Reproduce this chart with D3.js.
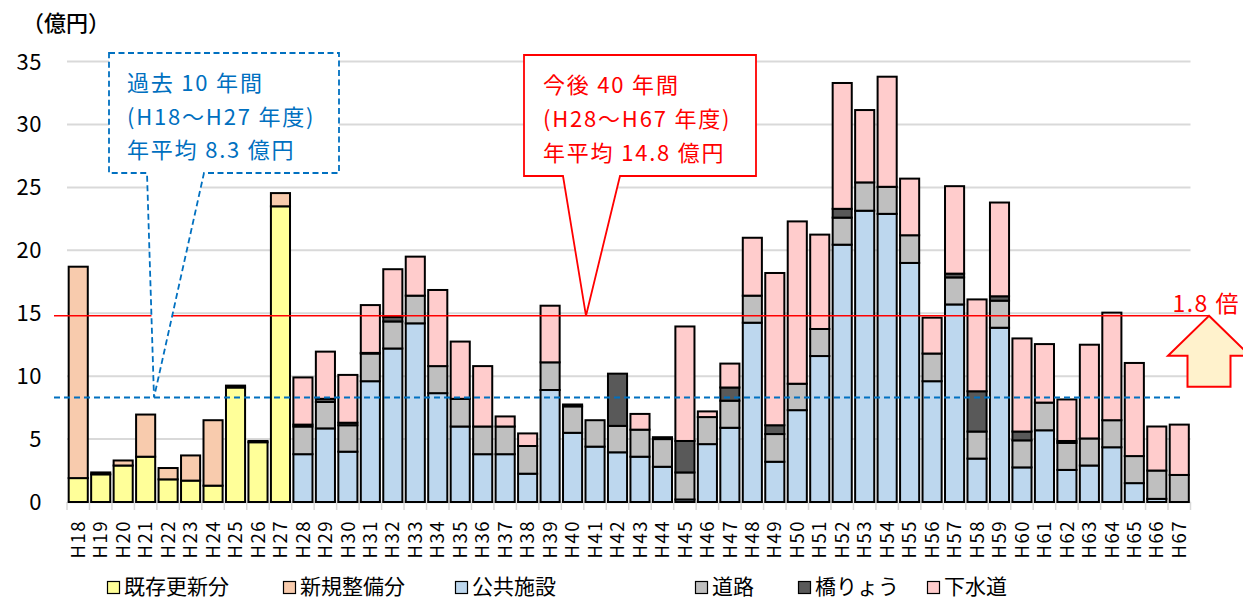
<!DOCTYPE html>
<html lang="ja">
<head>
<meta charset="utf-8">
<script src="https://cdn.jsdelivr.net/npm/d3@7"></script>
<style>
  html, body { margin: 0; padding: 0; background: #fff; }
  svg { display: block; font-family: "Noto Sans CJK JP", "Noto Sans", sans-serif; }
</style>
</head>
<body>
<svg id="chart" width="1243" height="600"></svg>
<script>
// 年度 (fiscal years)
const categories = [
  "H18","H19","H20","H21","H22","H23","H24","H25","H26","H27",
  "H28","H29","H30","H31","H32","H33","H34","H35","H36","H37",
  "H38","H39","H40","H41","H42","H43","H44","H45","H46","H47",
  "H48","H49","H50","H51","H52","H53","H54","H55","H56","H57",
  "H58","H59","H60","H61","H62","H63","H64","H65","H66","H67"
];

// 過去10年間 (H18–H27): 既存更新分 / 新規整備分 (億円)
const kizonKoushin = [1.9, 2.2, 2.9, 3.6, 1.8, 1.7, 1.3, 9.1, 4.75, 23.5];
const shinkiSeibi  = [16.8, 0.15, 0.4, 3.35, 0.9, 2.0, 5.2, 0.15, 0.1, 1.05];

// 今後40年間 (H28–H67): 公共施設 / 道路 / 橋りょう / 下水道 (億円)
const koukyouShisetsu = [
  3.8, 5.85, 4.0, 9.6, 12.2, 14.2, 8.65, 6.0, 3.8, 3.8,
  2.25, 8.9, 5.5, 4.4, 3.95, 3.6, 2.8, 0.2, 4.6, 5.9,
  14.25, 3.2, 7.3, 11.6, 20.45, 23.15, 22.9, 19.0, 9.6, 15.7,
  3.45, 13.85, 2.75, 5.7, 2.55, 2.9, 4.35, 1.5, 0.25, 0
];
const douro = [
  2.2, 2.1, 2.1, 2.2, 2.15, 2.2, 2.15, 2.2, 2.2, 2.2,
  2.2, 2.2, 2.1, 2.1, 2.1, 2.15, 2.2, 2.15, 2.15, 2.15,
  2.15, 2.2, 2.1, 2.15, 2.15, 2.25, 2.15, 2.2, 2.2, 2.15,
  2.15, 2.15, 2.15, 2.2, 2.15, 2.15, 2.15, 2.15, 2.25, 2.15
];
const kyouryou = [
  0.15, 0.25, 0.2, 0.05, 0.35, 0, 0, 0, 0, 0,
  0, 0, 0.15, 0, 4.15, 0, 0.15, 2.5, 0, 1.05,
  0, 0.7, 0, 0, 0.7, 0, 0, 0, 0, 0.3,
  3.2, 0.35, 0.7, 0, 0.15, 0, 0, 0, 0, 0
];
const gesuidou = [
  3.75, 3.75, 3.8, 3.8, 3.8, 3.1, 6.05, 4.55, 4.8, 0.8,
  1.0, 4.5, 0, 0, 0, 1.25, 0, 9.1, 0.45, 1.9,
  4.6, 12.1, 12.9, 7.5, 10.0, 5.75, 8.75, 4.5, 2.85, 6.95,
  7.3, 7.45, 7.4, 4.65, 3.3, 7.45, 8.55, 7.4, 3.5, 4.0
];

// 年平均
const pastAverage = 8.3;
const futureAverage = 14.8;

const yTicks = [0, 5, 10, 15, 20, 25, 30, 35];

const seriesNames = ["既存更新分", "新規整備分", "公共施設", "道路", "橋りょう", "下水道"];
const seriesColors = ["#FFFF99", "#F8CBAD", "#BDD7EE", "#BFBFBF", "#595959", "#FFCCCC"];

// ---- build rows for stacking ----
const nPast = kizonKoushin.length;
const rows = categories.map((c, i) => {
  const j = i - nPast;
  return {
    cat: c,
    "既存更新分": i < nPast ? kizonKoushin[i] : 0,
    "新規整備分": i < nPast ? shinkiSeibi[i] : 0,
    "公共施設": j >= 0 ? koukyouShisetsu[j] : 0,
    "道路": j >= 0 ? douro[j] : 0,
    "橋りょう": j >= 0 ? kyouryou[j] : 0,
    "下水道": j >= 0 ? gesuidou[j] : 0
  };
});
const stacked = d3.stack().keys(seriesNames)(rows);

const svg = d3.select("#chart");

const x = d3.scaleBand()
  .domain(categories)
  .range([67, 1190.5])
  .paddingInner(0.15)
  .paddingOuter(0.075);
const y = d3.scaleLinear().domain([0, 35]).range([502, 61.6]);

const plotL = 67, plotR = 1190.5;

// gridlines
svg.append("g")
  .selectAll("line")
  .data(yTicks.filter(t => t > 0))
  .join("line")
  .attr("x1", plotL).attr("x2", plotR)
  .attr("y1", d => y(d)).attr("y2", d => y(d))
  .attr("stroke", "#D9D9D9").attr("stroke-width", 2);

// y tick labels
svg.append("g")
  .selectAll("text")
  .data(yTicks)
  .join("text")
  .attr("x", 42).attr("y", d => y(d))
  .attr("dy", "0.36em")
  .attr("text-anchor", "end")
  .attr("font-size", 22)
  .attr("letter-spacing", 0.5)
  .attr("fill", "#000")
  .text(d => d);

// unit label
svg.append("text")
  .attr("x", 22).attr("y", 31)
  .attr("font-size", 22)
  .attr("font-weight", 500)
  .text("（億円）");

// category axis: baseline + tick marks at band boundaries
const step = x.step();
const x0 = x.range()[0];
svg.append("line")
  .attr("x1", plotL).attr("x2", plotR)
  .attr("y1", y(0)).attr("y2", y(0))
  .attr("stroke", "#D9D9D9").attr("stroke-width", 2.5);
svg.append("g")
  .selectAll("line")
  .data(d3.range(categories.length + 1))
  .join("line")
  .attr("x1", i => x0 + i * step).attr("x2", i => x0 + i * step)
  .attr("y1", y(0)).attr("y2", y(0) + 8)
  .attr("stroke", "#D9D9D9").attr("stroke-width", 1.5);

// rotated category labels
svg.append("g")
  .selectAll("text")
  .data(categories)
  .join("text")
  .attr("transform", d => `translate(${x(d) + x.bandwidth() / 2},520) rotate(-90)`)
  .attr("dy", "0.36em")
  .attr("text-anchor", "end")
  .attr("font-size", 18.5)
  .attr("letter-spacing", 1.5)
  .attr("fill", "#000")
  .text(d => d);

// stacked bars
svg.append("g")
  .selectAll("g")
  .data(stacked)
  .join("g")
  .attr("fill", (d, i) => seriesColors[i])
  .selectAll("rect")
  .data(d => d.filter(s => s[1] - s[0] > 0))
  .join("rect")
  .attr("x", d => x(d.data.cat))
  .attr("width", x.bandwidth())
  .attr("y", d => y(d[1]))
  .attr("height", d => y(d[0]) - y(d[1]))
  .attr("stroke", "#000")
  .attr("stroke-width", 2);

// average lines
const redY = y(futureAverage);
const blueY = y(pastAverage);
svg.append("line")
  .attr("x1", 54).attr("x2", 1209)
  .attr("y1", redY).attr("y2", redY)
  .attr("stroke", "#FF0000").attr("stroke-width", 1.6);
svg.append("line")
  .attr("x1", 54).attr("x2", 1184)
  .attr("y1", blueY).attr("y2", blueY)
  .attr("stroke", "#0070C0").attr("stroke-width", 2)
  .attr("stroke-dasharray", "6,4");

// callout: past 10 years
const bc = { l: 109, r: 339, t: 53, b: 173, p1: 147, p2: 204, tipX: 154 };
svg.append("path")
  .attr("d", `M${bc.l},${bc.t}H${bc.r}V${bc.b}H${bc.p2}L${bc.tipX},${blueY}L${bc.p1},${bc.b}H${bc.l}Z`)
  .attr("fill", "#fff")
  .attr("stroke", "#0070C0").attr("stroke-width", 1.8)
  .attr("stroke-dasharray", "6,3.5");
svg.append("g")
  .attr("fill", "#0070C0").attr("font-size", 22)
  .attr("letter-spacing", 1.8)
  .selectAll("text")
  .data(["過去 10 年間", "(H18～H27 年度)", `年平均 ${pastAverage} 億円`])
  .join("text")
  .attr("x", 127).attr("y", (d, i) => 91 + i * 33.5)
  .text(d => d);

// callout: next 40 years
const rc = { l: 524, r: 756, t: 55, b: 176, p1: 563, p2: 620, tipX: 586 };
svg.append("path")
  .attr("d", `M${rc.l},${rc.t}H${rc.r}V${rc.b}H${rc.p2}L${rc.tipX},${redY}L${rc.p1},${rc.b}H${rc.l}Z`)
  .attr("fill", "#fff")
  .attr("stroke", "#FF0000").attr("stroke-width", 1.8);
svg.append("g")
  .attr("fill", "#FF0000").attr("font-size", 22)
  .attr("letter-spacing", 1.8)
  .selectAll("text")
  .data(["今後 40 年間", "(H28～H67 年度)", `年平均 ${futureAverage} 億円`])
  .join("text")
  .attr("x", 543).attr("y", (d, i) => 93 + i * 34)
  .text(d => d);

// ratio arrow
const ax = 1209;
svg.append("path")
  .attr("d", `M${ax},${redY}L${ax + 41},${redY + 40}H${ax + 21.5}V${redY + 71}H${ax - 21.5}V${redY + 40}H${ax - 41}Z`)
  .attr("fill", "#FFF2CC")
  .attr("stroke", "#FF0000").attr("stroke-width", 2)
  .attr("stroke-linejoin", "miter");
svg.append("text")
  .attr("x", 1240).attr("y", 312)
  .attr("text-anchor", "end")
  .attr("font-size", 23)
  .attr("letter-spacing", 1.5)
  .attr("fill", "#FF0000")
  .text(`${d3.format(".1f")(futureAverage / pastAverage)} 倍`);

// legend
const legendX = [107, 283, 455, 695, 798, 927];
const lg = svg.append("g")
  .selectAll("g")
  .data(seriesNames)
  .join("g")
  .attr("transform", (d, i) => `translate(${legendX[i]},581)`);
lg.append("rect")
  .attr("x", 0.5).attr("y", 0.5)
  .attr("width", 12).attr("height", 12)
  .attr("fill", (d, i) => seriesColors[i])
  .attr("stroke", "#000").attr("stroke-width", 1.2);
lg.append("text")
  .attr("x", 17).attr("y", 12.5)
  .attr("font-size", 21)
  .text(d => d);
</script>
</body>
</html>
